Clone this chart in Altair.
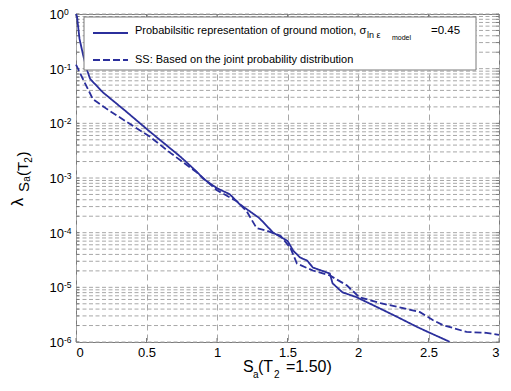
import altair as alt
import pandas as pd

FONT = "Liberation Sans"
BLUE = "#2b2f9c"
GRID = "#a8a8a8"
FRAME = "#7a7a7a"

# ---- data ----
series_names = ["Probabilsitic representation of ground motion", "SS: Based on the joint probability distribution"]

solid_x = [0.0, 0.007, 0.025, 0.05, 0.075, 0.10, 0.19, 0.36, 0.525, 0.74, 0.85, 0.87, 0.90,
           1.0, 1.09, 1.16, 1.30, 1.40, 1.50, 1.54, 1.59, 1.64, 1.68, 1.80, 1.82, 1.89, 1.99,
           2.135, 2.28, 2.42, 2.51, 2.65]
solid_y = [1.0, 0.9, 0.35, 0.18, 0.10, 0.065, 0.037, 0.0161, 0.0070, 0.00246, 0.00135, 0.0012, 0.00098,
           6.5e-4, 5.05e-4, 3.33e-4, 1.85e-4, 9.9e-5, 7.1e-5, 4.7e-5, 3.5e-5, 3.08e-5, 2.3e-5, 1.79e-5, 1.18e-5, 8.1e-6, 6.6e-6,
           4.35e-6, 2.86e-6, 1.88e-6, 1.47e-6, 1.01e-6]

dash_x = [0.0, 0.05, 0.12, 0.22, 0.36, 0.525, 0.667, 0.858, 1.0, 1.14, 1.21, 1.28, 1.355, 1.45,
          1.52, 1.567, 1.68, 1.80, 1.92, 2.01, 2.16, 2.32, 2.44, 2.53, 2.60, 2.77, 2.91, 3.0]
dash_y = [0.119, 0.064, 0.0277, 0.0182, 0.0106, 0.00568, 0.00291, 0.00126, 5.96e-4, 3.77e-4, 2.48e-4, 1.22e-4, 1.08e-4, 8.75e-5,
          5.3e-5, 2.72e-5, 2.03e-5, 1.65e-5, 1.09e-5, 6.6e-6, 5.13e-6, 4.17e-6, 3.52e-6, 2.52e-6, 2.05e-6, 1.53e-6, 1.47e-6, 1.35e-6]

x_ticks = [0, 0.5, 1, 1.5, 2, 2.5, 3]
decade_exps = [0, -1, -2, -3, -4, -5, -6]
minor_mult = [1, 2, 3, 4, 5, 6, 7, 8, 9]

legend_main = ["Probabilsitic representation of ground motion, σ", "SS: Based on the joint probability distribution"]
legend_sub = "ln ε"
legend_subsub = "model"
legend_value = "=0.45"

# ---- tables ----
rows = [{"x": a, "y": b, "series": series_names[0]} for a, b in zip(solid_x, solid_y)]
rows += [{"x": a, "y": b, "series": series_names[1]} for a, b in zip(dash_x, dash_y)]
df = pd.DataFrame(rows)

grid_df = pd.DataFrame({"g": [m * 10.0 ** e for e in range(-6, 0) for m in minor_mult] + [1.0]})
dec_df = pd.DataFrame({"v": [10.0 ** e for e in decade_exps], "e": [str(e) for e in decade_exps]})
xt_df = pd.DataFrame({"t": x_ticks})
one = pd.DataFrame({"k": [0]})

W, H = 423, 328
xscale = alt.Scale(domain=[0, 3], nice=False, zero=False)
yscale = alt.Scale(type="log", domain=[1e-6, 1], nice=False)
x_axis = alt.Axis(values=x_ticks, format="~g", grid=True, gridDash=[6, 4], ticks=False,
                  domain=False, title=None, labelFontSize=13, labelPadding=4)

hgrid = alt.Chart(grid_df).mark_rule(color=GRID, strokeWidth=1, strokeDash=[4, 2.5]).encode(
    y=alt.Y("g:Q", scale=yscale, axis=None), x=alt.value(0), x2=alt.value(W))

ytick_l = alt.Chart(grid_df).mark_rule(color=FRAME, strokeWidth=1).encode(
    y=alt.Y("g:Q", scale=yscale, axis=None), x=alt.value(0), x2=alt.value(3))
ytick_r = alt.Chart(grid_df).mark_rule(color=FRAME, strokeWidth=1).encode(
    y=alt.Y("g:Q", scale=yscale, axis=None), x=alt.value(W - 3), x2=alt.value(W))
xtick_b = alt.Chart(xt_df).mark_rule(color=FRAME, strokeWidth=1).encode(
    x=alt.X("t:Q", scale=xscale, axis=x_axis), y=alt.value(H - 4), y2=alt.value(H))
xtick_t = alt.Chart(xt_df).mark_rule(color=FRAME, strokeWidth=1).encode(
    x=alt.X("t:Q", scale=xscale, axis=x_axis), y=alt.value(0), y2=alt.value(4))

lines = alt.Chart(df).mark_line(strokeWidth=1.8, color=BLUE).encode(
    x=alt.X("x:Q", scale=xscale, axis=x_axis),
    y=alt.Y("y:Q", scale=yscale, axis=None),
    strokeDash=alt.StrokeDash("series:N", scale=alt.Scale(domain=series_names, range=[[1, 0], [7, 3]]), legend=None),
    detail="series:N",
)

ten = alt.Chart(dec_df).mark_text(align="right", baseline="middle", fontSize=13, dy=1, font=FONT, color="black").encode(
    x=alt.value(-12), y=alt.Y("v:Q", scale=yscale, axis=None), text=alt.value("10"))
expo = alt.Chart(dec_df).mark_text(align="left", baseline="middle", fontSize=8.5, dy=-2, font=FONT, color="black").encode(
    x=alt.value(-12), y=alt.Y("v:Q", scale=yscale, axis=None), text="e:N")

# legend box
box = alt.Chart(one).mark_rect(fill="white", stroke=FRAME, strokeWidth=1).encode(
    x=alt.value(8), x2=alt.value(400), y=alt.value(3), y2=alt.value(56))
leg_solid = alt.Chart(one).mark_rule(color=BLUE, strokeWidth=1.8).encode(
    x=alt.value(17), x2=alt.value(52), y=alt.value(19))
leg_dash = alt.Chart(one).mark_rule(color=BLUE, strokeWidth=1.8, strokeDash=[7, 3]).encode(
    x=alt.value(17), x2=alt.value(52), y=alt.value(46))


def txt(s, x, y, size, angle=0, align="left"):
    return alt.Chart(one).mark_text(align=align, baseline="middle", fontSize=size, font=FONT,
                                    color="black", angle=angle).encode(
        x=alt.value(x), y=alt.value(y), text=alt.value(s))


legend_txt = [txt(legend_main[0], 59, 17, 11), txt(legend_main[1], 59, 46, 11),
              txt(legend_sub, 291, 21, 9), txt(legend_subsub, 316, 24, 7), txt(legend_value, 355, 17, 11.5)]

# x axis title pieces  S_a(T_2 =1.50)
xt = [txt("S", 167, 353, 16), txt("a", 177, 361, 10), txt("(T", 182, 353, 16), txt("2", 198, 361, 10),
      txt("=1.50)", 210, 353, 16)]
# y axis title pieces  lambda_{S_a(T_2)}
yt = [txt("λ", -58, 188, 17, 270, "center"), txt("S", -52, 173, 15, 270, "center"), txt("a", -49, 165, 10, 270, "center"),
      txt("(T", -53, 155, 15, 270, "center"), txt("2", -47, 146, 10, 270, "center"), txt(")", -53, 140, 15, 270, "center")]

chart = alt.layer(hgrid, ytick_l, ytick_r, xtick_b, xtick_t, lines, ten, expo, box, leg_solid, leg_dash,
                  *legend_txt, *xt, *yt).properties(
    width=W, height=H, autosize="none", padding={"left": 68, "top": 6, "right": 4, "bottom": 40}
).configure_view(stroke=FRAME, strokeWidth=1).configure_axis(
    labelFont=FONT, labelColor="black", gridColor=GRID, gridWidth=1
)

chart.save("out.html", embed_options={"renderer": "svg", "actions": False})
